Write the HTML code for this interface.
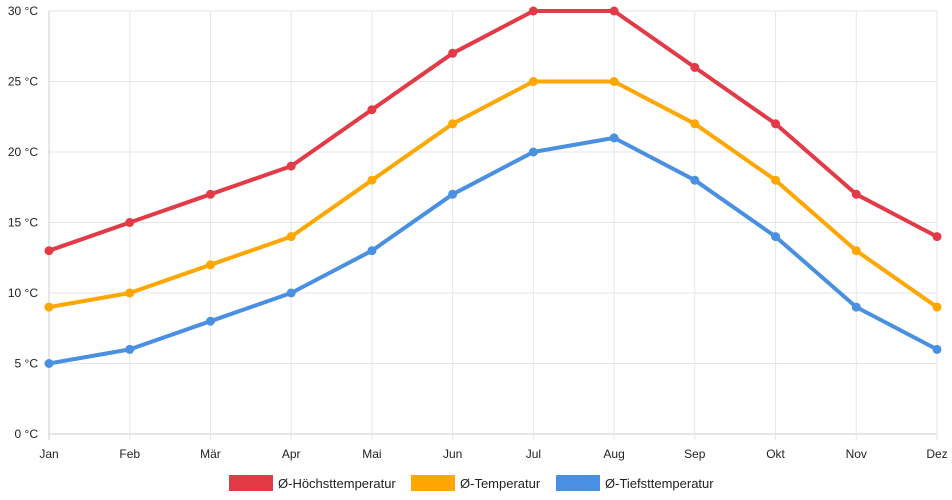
<!DOCTYPE html>
<html><head><meta charset="utf-8"><style>
html,body{margin:0;padding:0;background:#fff;}
svg{display:block;font-family:"Liberation Sans",sans-serif;}
</style></head><body>
<svg id="chart" width="952" height="500" xmlns="http://www.w3.org/2000/svg"></svg>
<script>
const months=["Jan","Feb","Mär","Apr","Mai","Jun","Jul","Aug","Sep","Okt","Nov","Dez"];
const highTemps=[13,15,17,19,23,27,30,30,26,22,17,14];
const meanTemps=[9,10,12,14,18,22,25,25,22,18,13,9];
const lowTemps=[5,6,8,10,13,17,20,21,18,14,9,6];
const yTicks=[0,5,10,15,20,25,30];
const seriesNames=["Ø-Höchsttemperatur","Ø-Temperatur","Ø-Tiefsttemperatur"];
const colors=["#e23a47","#ffa600","#4a90e2"];
const svg=document.getElementById('chart');
const NS="http://www.w3.org/2000/svg";
const x0=49,x1=937,y0=434,y1=11;
const xs=i=>x0+(x1-x0)*i/(months.length-1);
const ys=v=>y0-(y0-y1)*v/30;
function mk(t,a,p){const e=document.createElementNS(NS,t);for(const k in a)e.setAttribute(k,a[k]);(p||svg).appendChild(e);return e;}
const grid=mk('g',{});


yTicks.forEach(v=>{
  mk('line',{x1:x0,x2:x1,y1:ys(v),y2:ys(v),stroke:v===0?'#ccc':'#e6e6e6','stroke-width':1},grid);
  const t=mk('text',{x:38,y:ys(v)+4,'text-anchor':'end','font-size':12,fill:'#222'});
  
  
  t.textContent=v+' °C';
});
months.forEach((m,i)=>{
  mk('line',{x1:xs(i),x2:xs(i),y1:y1,y2:y0+6,stroke:i===0?'#ccc':'#e6e6e6','stroke-width':1},grid);
  const t=mk('text',{x:xs(i),y:458,'text-anchor':'middle','font-size':12,fill:'#222'});
  
  
  t.textContent=m;
});
[highTemps,meanTemps,lowTemps].forEach((d,s)=>{
  const g=mk('g',{});
  
  
  const p=mk('polyline',{points:d.map((v,i)=>xs(i)+','+ys(v)).join(' '),fill:'none',stroke:colors[s],'stroke-width':4,'stroke-linejoin':'round'},g);
  
  
  d.forEach((v,i)=>{
    const c=mk('circle',{cx:xs(i),cy:ys(v),r:4.5,fill:colors[s]},g);
    
    
  });
});
const legX=[229,411,556];
seriesNames.forEach((n,s)=>{
  const g=mk('g',{});
  
  
  mk('rect',{x:legX[s],y:475,width:44,height:16,fill:colors[s]},g);
  const t=mk('text',{x:legX[s]+49,y:488,'font-size':13,fill:'#222'},g);
  t.textContent=n;
});
</script>
</body></html>
